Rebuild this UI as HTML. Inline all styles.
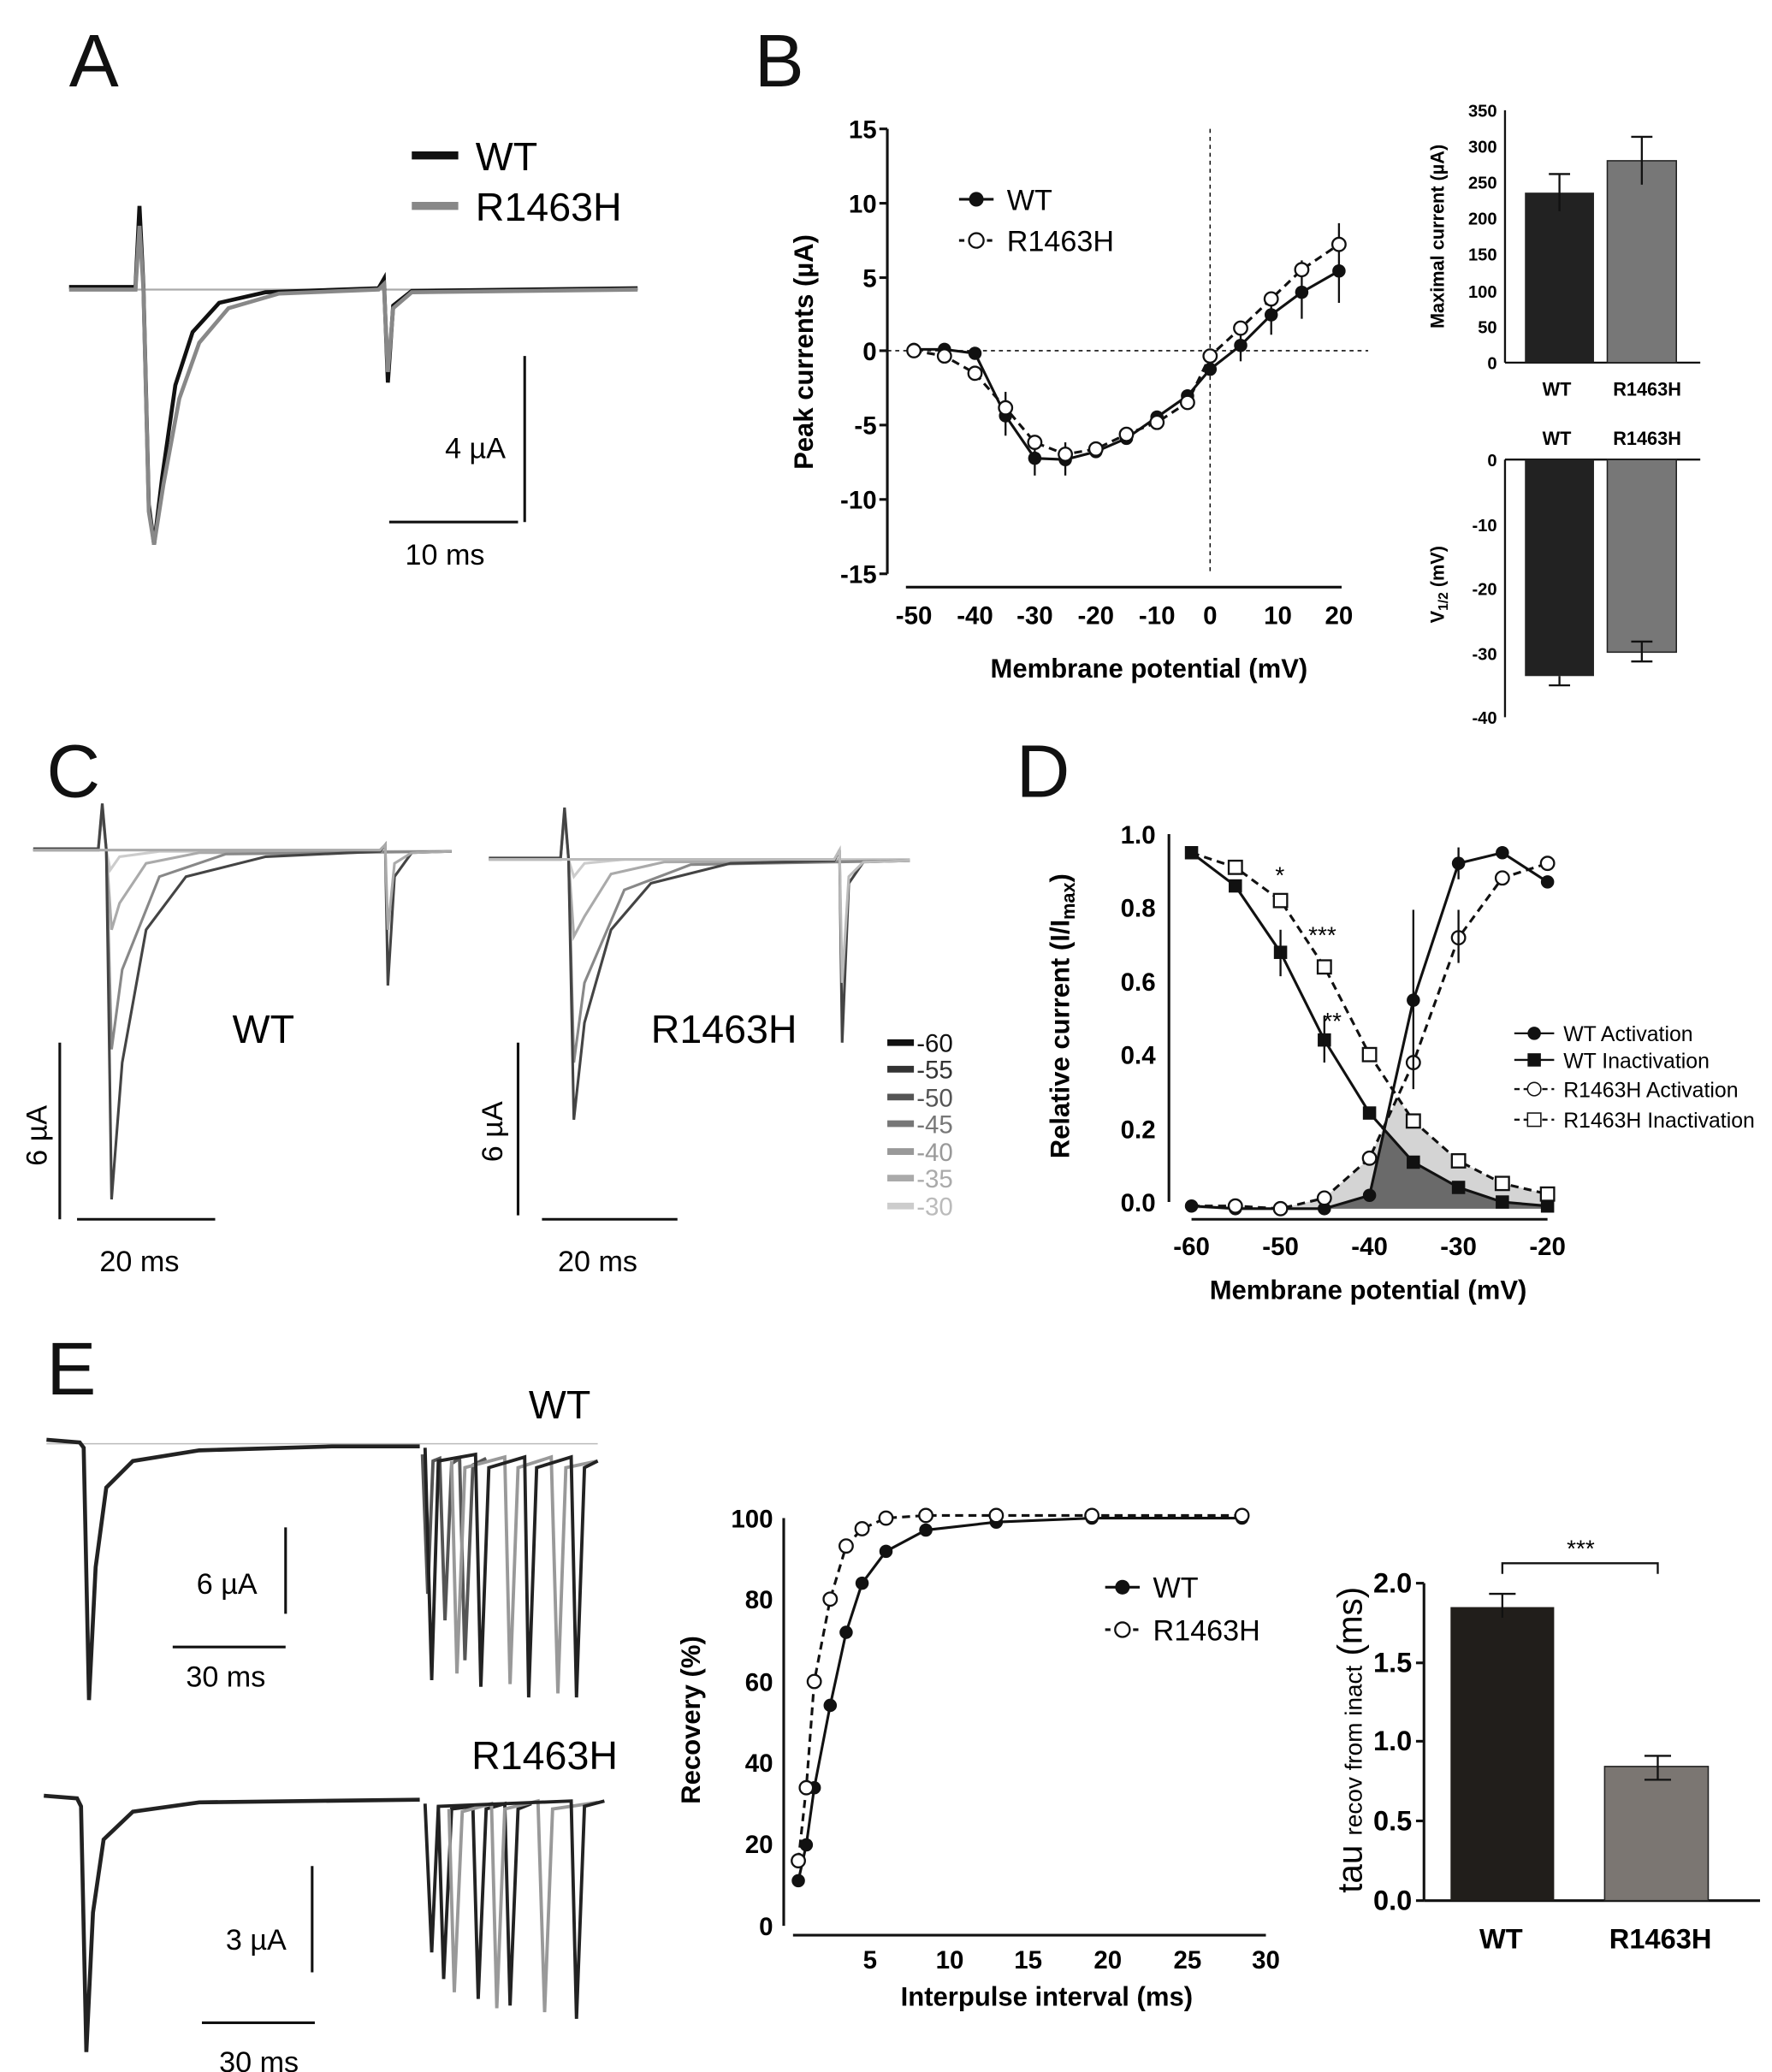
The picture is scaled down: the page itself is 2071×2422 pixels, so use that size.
<!DOCTYPE html>
<html><head><meta charset="utf-8"><style>html,body{margin:0;padding:0;background:#fff}svg{display:block}</style></head><body>
<svg xmlns="http://www.w3.org/2000/svg" width="2071" height="2422" viewBox="0 0 1334 1560" font-family="Liberation Sans, sans-serif">
<rect width="1334" height="1560" fill="#fff"/>
<!-- Panel labels -->
<g font-size="56" fill="#111"><text x="52" y="65">A</text><text x="568" y="65">B</text><text x="35" y="600">C</text><text x="765" y="600">D</text><text x="35" y="1050">E</text></g>

<!-- Panel A -->
<line x1="310" y1="117" x2="345" y2="117" stroke="#111" stroke-width="6"/>
<line x1="310" y1="155" x2="345" y2="155" stroke="#888" stroke-width="6"/>
<text x="358" y="128" font-size="30">WT</text><text x="358" y="166" font-size="30">R1463H</text>
<line x1="100" y1="218" x2="480" y2="218" stroke="#aaa" stroke-width="1.5"/>
<path d="M52 216 L102 216 L105 155 L108 216 L112 380 L116 410 L122 360 L132 290 L145 250 L165 228 L200 220 L285 217 L289 210 L292 288 L296 230 L310 219 L480 217" fill="none" stroke="#111" stroke-width="3"/>
<path d="M52 218 L102 218 L105 170 L108 218 L112 385 L116 410 L123 365 L135 300 L150 258 L172 232 L210 221 L285 218 L289 214 L292 280 L296 232 L310 220 L480 218" fill="none" stroke="#888" stroke-width="3"/>
<line x1="395" y1="268" x2="395" y2="393" stroke="#111" stroke-width="2"/>
<line x1="293" y1="393" x2="390" y2="393" stroke="#111" stroke-width="2"/>
<text x="335" y="345" font-size="22">4 µA</text><text x="305" y="425" font-size="22">10 ms</text>

<!-- Panel B main -->
<g stroke="#111" stroke-width="2" fill="none">
<line x1="668" y1="97" x2="668" y2="432"/>
<line x1="682" y1="442" x2="1010" y2="442"/>
</g>
<line x1="668" y1="264" x2="1030" y2="264" stroke="#111" stroke-dasharray="3,3"/>
<line x1="911" y1="97" x2="911" y2="432" stroke="#111" stroke-dasharray="3,3"/>
<g font-size="19" font-weight="bold" text-anchor="end">
<text x="660" y="104">15</text><text x="660" y="160">10</text><text x="660" y="216">5</text><text x="660" y="271">0</text><text x="660" y="327">-5</text><text x="660" y="383">-10</text><text x="660" y="439">-15</text></g>
<g stroke="#111" stroke-width="2"><line x1="662" y1="97" x2="668" y2="97"/><line x1="662" y1="153" x2="668" y2="153"/><line x1="662" y1="209" x2="668" y2="209"/><line x1="662" y1="264" x2="668" y2="264"/><line x1="662" y1="320" x2="668" y2="320"/><line x1="662" y1="376" x2="668" y2="376"/><line x1="662" y1="432" x2="668" y2="432"/></g>
<g font-size="19" font-weight="bold" text-anchor="middle">
<text x="688" y="470">-50</text><text x="734" y="470">-40</text><text x="779" y="470">-30</text><text x="825" y="470">-20</text><text x="871" y="470">-10</text><text x="911" y="470">0</text><text x="962" y="470">10</text><text x="1008" y="470">20</text></g>
<text x="865" y="510" font-size="20" font-weight="bold" text-anchor="middle">Membrane potential (mV)</text>
<text transform="translate(612,265) rotate(-90)" font-size="20" font-weight="bold" text-anchor="middle">Peak currents (µA)</text>
<path d="M688 263 L711 263 L734 266 L757 313 L779 345 L802 346 L825 340 L848 330 L871 314 L894 298 L911 278 L934 260 L957 237 L980 220 L1008 204" fill="none" stroke="#111" stroke-width="2"/>
<path d="M688 264 L711 268 L734 281 L757 307 L779 333 L802 342 L825 338 L848 327 L871 318 L894 303 L911 268 L934 247 L957 225 L980 203 L1008 184" fill="none" stroke="#111" stroke-width="2" stroke-dasharray="6,4"/>
<g stroke="#111" stroke-width="1.5">
<line x1="757" y1="295" x2="757" y2="328"/><line x1="779" y1="330" x2="779" y2="358"/><line x1="802" y1="333" x2="802" y2="358"/><line x1="957" y1="222" x2="957" y2="252"/><line x1="980" y1="196" x2="980" y2="240"/><line x1="1008" y1="168" x2="1008" y2="228"/><line x1="934" y1="250" x2="934" y2="272"/></g>
<g fill="#111"><circle cx="688" cy="263" r="5"/><circle cx="711" cy="263" r="5"/><circle cx="734" cy="266" r="5"/><circle cx="757" cy="313" r="5"/><circle cx="779" cy="345" r="5"/><circle cx="802" cy="346" r="5"/><circle cx="825" cy="340" r="5"/><circle cx="848" cy="330" r="5"/><circle cx="871" cy="314" r="5"/><circle cx="894" cy="298" r="5"/><circle cx="911" cy="278" r="5"/><circle cx="934" cy="260" r="5"/><circle cx="957" cy="237" r="5"/><circle cx="980" cy="220" r="5"/><circle cx="1008" cy="204" r="5"/></g>
<g fill="#fff" stroke="#111" stroke-width="1.5"><circle cx="688" cy="264" r="5"/><circle cx="711" cy="268" r="5"/><circle cx="734" cy="281" r="5"/><circle cx="757" cy="307" r="5"/><circle cx="779" cy="333" r="5"/><circle cx="802" cy="342" r="5"/><circle cx="825" cy="338" r="5"/><circle cx="848" cy="327" r="5"/><circle cx="871" cy="318" r="5"/><circle cx="894" cy="303" r="5"/><circle cx="911" cy="268" r="5"/><circle cx="934" cy="247" r="5"/><circle cx="957" cy="225" r="5"/><circle cx="980" cy="203" r="5"/><circle cx="1008" cy="184" r="5"/></g>
<line x1="722" y1="150" x2="748" y2="150" stroke="#111" stroke-width="2"/><circle cx="735" cy="150" r="5.5" fill="#111"/>
<line x1="722" y1="181" x2="748" y2="181" stroke="#111" stroke-width="2" stroke-dasharray="4,3"/><circle cx="735" cy="181" r="5.5" fill="#fff" stroke="#111" stroke-width="1.5"/>
<text x="758" y="158" font-size="22">WT</text><text x="758" y="189" font-size="22">R1463H</text>

<!-- B inset top -->
<line x1="1133" y1="83" x2="1133" y2="273" stroke="#111" stroke-width="1.5"/>
<line x1="1133" y1="273" x2="1280" y2="273" stroke="#111" stroke-width="1.5"/>
<g font-size="13" font-weight="bold" text-anchor="end">
<text x="1127" y="88">350</text><text x="1127" y="115">300</text><text x="1127" y="142">250</text><text x="1127" y="169">200</text><text x="1127" y="196">150</text><text x="1127" y="224">100</text><text x="1127" y="251">50</text><text x="1127" y="278">0</text></g>
<rect x="1148" y="145" width="52" height="128" fill="#222"/>
<rect x="1210" y="121" width="52" height="152" fill="#777" stroke="#222"/>
<g stroke="#111" stroke-width="1.5"><line x1="1174" y1="131" x2="1174" y2="159"/><line x1="1166" y1="131" x2="1182" y2="131"/><line x1="1236" y1="103" x2="1236" y2="139"/><line x1="1228" y1="103" x2="1244" y2="103"/></g>
<g font-size="14" font-weight="bold" text-anchor="middle"><text x="1172" y="298">WT</text><text x="1240" y="298">R1463H</text><text x="1172" y="335">WT</text><text x="1240" y="335">R1463H</text></g>
<text transform="translate(1087,178) rotate(-90)" font-size="14" font-weight="bold" text-anchor="middle">Maximal current (µA)</text>
<!-- B inset bottom -->
<line x1="1133" y1="346" x2="1133" y2="540" stroke="#111" stroke-width="1.5"/>
<line x1="1133" y1="346" x2="1280" y2="346" stroke="#111" stroke-width="1.5"/>
<g font-size="13" font-weight="bold" text-anchor="end"><text x="1127" y="351">0</text><text x="1127" y="400">-10</text><text x="1127" y="448">-20</text><text x="1127" y="497">-30</text><text x="1127" y="545">-40</text></g>
<rect x="1148" y="346" width="52" height="163" fill="#222"/>
<rect x="1210" y="346" width="52" height="145" fill="#777" stroke="#222"/>
<g stroke="#111" stroke-width="1.5"><line x1="1174" y1="509" x2="1174" y2="516"/><line x1="1166" y1="516" x2="1182" y2="516"/><line x1="1236" y1="483" x2="1236" y2="498"/><line x1="1228" y1="483" x2="1244" y2="483"/><line x1="1228" y1="498" x2="1244" y2="498"/></g>
<text transform="translate(1087,440) rotate(-90)" font-size="14" font-weight="bold" text-anchor="middle">V<tspan font-size="10" dy="3">1/2</tspan><tspan dy="-3"> (mV)</tspan></text>

<!-- Panel C -->
<g fill="none" stroke-width="2">
<path d="M25 640 L74 640 L77 605 L80 640 L83 655 L90 645 L120 641 L340 641" stroke="#ccc"/>
<path d="M25 640 L74 640 L77 610 L80 640 L84 700 L90 680 L110 650 L150 642 L340 641" stroke="#aaa"/>
<path d="M25 640 L74 640 L77 610 L80 640 L84 790 L92 730 L120 660 L170 643 L340 641" stroke="#888"/>
<path d="M25 639 L74 639 L77 605 L80 639 L84 903 L92 800 L110 700 L140 660 L200 645 L286 641 L290 636 L292 742 L297 660 L310 642 L340 641" stroke="#444"/>
<path d="M25 640 L286 640 L290 636 L292 700 L297 650 L310 642 L340 641" stroke="#aaa"/>
<path d="M368 647 L422 647 L425 610 L428 647 L432 660 L440 650 L470 647 L685 647" stroke="#ccc"/>
<path d="M368 647 L422 647 L425 612 L428 647 L432 705 L440 690 L460 658 L500 649 L685 648" stroke="#aaa"/>
<path d="M368 647 L422 647 L425 612 L428 647 L432 800 L440 740 L470 670 L520 651 L685 648" stroke="#888"/>
<path d="M368 646 L422 646 L425 608 L428 646 L432 843 L440 770 L460 700 L490 665 L550 650 L628 648 L632 640 L634 785 L639 665 L650 649 L685 648" stroke="#444"/>
<path d="M368 647 L628 647 L632 640 L634 740 L639 660 L650 649 L685 648" stroke="#bbb"/>
</g>
<text x="175" y="785" font-size="30">WT</text><text x="490" y="785" font-size="30">R1463H</text>
<g stroke="#111" stroke-width="2"><line x1="45" y1="785" x2="45" y2="918"/><line x1="58" y1="918" x2="162" y2="918"/><line x1="390" y1="785" x2="390" y2="915"/><line x1="408" y1="918" x2="510" y2="918"/></g>
<text transform="translate(35,855) rotate(-90)" font-size="22" text-anchor="middle">6 µA</text>
<text transform="translate(378,852) rotate(-90)" font-size="22" text-anchor="middle">6 µA</text>
<text x="75" y="957" font-size="22">20 ms</text><text x="420" y="957" font-size="22">20 ms</text>
<g stroke-width="5"><line x1="668" y1="785" x2="688" y2="785" stroke="#111"/><line x1="668" y1="805" x2="688" y2="805" stroke="#333"/><line x1="668" y1="826" x2="688" y2="826" stroke="#555"/><line x1="668" y1="846" x2="688" y2="846" stroke="#777"/><line x1="668" y1="867" x2="688" y2="867" stroke="#999"/><line x1="668" y1="887" x2="688" y2="887" stroke="#aaa"/><line x1="668" y1="908" x2="688" y2="908" stroke="#ccc"/></g>
<g font-size="19"><text x="690" y="792" fill="#111">-60</text><text x="690" y="812" fill="#333">-55</text><text x="690" y="833" fill="#555">-50</text><text x="690" y="853" fill="#777">-45</text><text x="690" y="874" fill="#999">-40</text><text x="690" y="894" fill="#aaa">-35</text><text x="690" y="915" fill="#bbb">-30</text></g>

<!-- Panel D -->
<path d="M897 908 L930 908 L964 910 L997 902 L1031 872 L1052 826 L1064 844 L1098 874 L1131 891 L1165 899 L1165 910 L897 910 Z" fill="#d4d4d4"/>
<path d="M930 910 L964 910 L997 910 L1031 900 L1042 850 L1064 875 L1098 894 L1131 905 L1165 908 L1165 910 Z" fill="#6a6a6a"/>
<g stroke="#111" stroke-width="2"><line x1="880" y1="628" x2="880" y2="905"/><line x1="897" y1="918" x2="1165" y2="918"/></g>
<g font-size="19" font-weight="bold" text-anchor="end"><text x="870" y="635">1.0</text><text x="870" y="690">0.8</text><text x="870" y="746">0.6</text><text x="870" y="801">0.4</text><text x="870" y="857">0.2</text><text x="870" y="912">0.0</text></g>
<g font-size="19" font-weight="bold" text-anchor="middle"><text x="897" y="945">-60</text><text x="964" y="945">-50</text><text x="1031" y="945">-40</text><text x="1098" y="945">-30</text><text x="1165" y="945">-20</text></g>
<text x="1030" y="978" font-size="20" font-weight="bold" text-anchor="middle">Membrane potential (mV)</text>
<text transform="translate(805,765) rotate(-90)" font-size="20" font-weight="bold" text-anchor="middle">Relative current (I/I<tspan font-size="14" dy="4">max</tspan><tspan dy="-4">)</tspan></text>
<path d="M897 908 L930 910 L964 910 L997 910 L1031 900 L1064 753 L1098 650 L1131 642 L1165 664" fill="none" stroke="#111" stroke-width="2"/>
<path d="M897 642 L930 667 L964 717 L997 783 L1031 838 L1064 875 L1098 894 L1131 905 L1165 908" fill="none" stroke="#111" stroke-width="2"/>
<path d="M897 908 L930 908 L964 910 L997 902 L1031 872 L1064 800 L1098 706 L1131 661 L1165 650" fill="none" stroke="#111" stroke-width="2" stroke-dasharray="6,4"/>
<path d="M897 642 L930 653 L964 678 L997 728 L1031 794 L1064 844 L1098 874 L1131 891 L1165 899" fill="none" stroke="#111" stroke-width="2" stroke-dasharray="6,4"/>
<g fill="#111"><circle cx="897" cy="908" r="5"/><circle cx="930" cy="910" r="5"/><circle cx="964" cy="910" r="5"/><circle cx="997" cy="910" r="5"/><circle cx="1031" cy="900" r="5"/><circle cx="1064" cy="753" r="5"/><circle cx="1098" cy="650" r="5"/><circle cx="1131" cy="642" r="5"/><circle cx="1165" cy="664" r="5"/>
<rect x="892" y="637" width="10" height="10"/><rect x="925" y="662" width="10" height="10"/><rect x="959" y="712" width="10" height="10"/><rect x="992" y="778" width="10" height="10"/><rect x="1026" y="833" width="10" height="10"/><rect x="1059" y="870" width="10" height="10"/><rect x="1093" y="889" width="10" height="10"/><rect x="1126" y="900" width="10" height="10"/><rect x="1160" y="903" width="10" height="10"/></g>
<g fill="#fff" stroke="#111" stroke-width="1.5"><circle cx="930" cy="908" r="5"/><circle cx="964" cy="910" r="5"/><circle cx="997" cy="902" r="5"/><circle cx="1031" cy="872" r="5"/><circle cx="1064" cy="800" r="5"/><circle cx="1098" cy="706" r="5"/><circle cx="1131" cy="661" r="5"/><circle cx="1165" cy="650" r="5"/>
<rect x="925" y="648" width="10" height="10"/><rect x="959" y="673" width="10" height="10"/><rect x="992" y="723" width="10" height="10"/><rect x="1026" y="789" width="10" height="10"/><rect x="1059" y="839" width="10" height="10"/><rect x="1093" y="869" width="10" height="10"/><rect x="1126" y="886" width="10" height="10"/><rect x="1160" y="894" width="10" height="10"/></g>
<g stroke="#111" stroke-width="1.5"><line x1="964" y1="700" x2="964" y2="735"/><line x1="997" y1="765" x2="997" y2="800"/><line x1="1064" y1="685" x2="1064" y2="820"/><line x1="1098" y1="685" x2="1098" y2="725"/><line x1="1098" y1="638" x2="1098" y2="662"/></g>
<g font-size="18"><text x="960" y="665">*</text><text x="985" y="710">***</text><text x="996" y="775">**</text></g>
<g stroke="#111" stroke-width="1.5"><line x1="1140" y1="778" x2="1170" y2="778"/><line x1="1140" y1="798" x2="1170" y2="798"/><line x1="1140" y1="820" x2="1170" y2="820" stroke-dasharray="4,3"/><line x1="1140" y1="843" x2="1170" y2="843" stroke-dasharray="4,3"/></g>
<circle cx="1155" cy="778" r="5" fill="#111"/><rect x="1150" y="793" width="10" height="10" fill="#111"/>
<circle cx="1155" cy="820" r="5" fill="#fff" stroke="#111"/><rect x="1150" y="838" width="10" height="10" fill="#fff" stroke="#111"/>
<g font-size="16"><text x="1177" y="784">WT Activation</text><text x="1177" y="804">WT Inactivation</text><text x="1177" y="826">R1463H Activation</text><text x="1177" y="849">R1463H Inactivation</text></g>

<!-- Panel E traces -->
<text x="398" y="1068" font-size="30">WT</text><text x="355" y="1332" font-size="30">R1463H</text>
<line x1="35" y1="1087" x2="450" y2="1087" stroke="#bbb" stroke-width="1"/>
<path d="M35 1084 L60 1086 L63 1090 L67 1280 L72 1180 L80 1120 L100 1100 L150 1092 L250 1089 L316 1089" fill="none" stroke="#222" stroke-width="3"/>
<g fill="none" stroke-width="2.5">
<path d="M318 1095 L322 1200 L326 1100 L331 1098 L335 1220 L340 1102 L346 1098 L350 1250 L356 1103 L366 1098" stroke="#555"/>
<path d="M340 1100 L344 1260 L350 1105 L380 1097 L384 1268 L390 1105 L415 1097 L420 1275 L426 1105 L450 1100" stroke="#999"/>
<path d="M320 1090 L325 1265 L330 1100 L358 1095 L362 1270 L368 1105 L395 1097 L398 1278 L404 1105 L430 1097 L434 1278 L440 1105 L450 1100" stroke="#222"/>
</g>
<g stroke="#111" stroke-width="2"><line x1="215" y1="1150" x2="215" y2="1215"/><line x1="130" y1="1240" x2="215" y2="1240"/><line x1="235" y1="1405" x2="235" y2="1485"/><line x1="152" y1="1523" x2="237" y2="1523"/></g>
<g font-size="22"><text x="148" y="1200">6 µA</text><text x="140" y="1270">30 ms</text><text x="170" y="1468">3 µA</text><text x="165" y="1560">30 ms</text></g>
<path d="M33 1352 L58 1354 L61 1360 L65 1545 L70 1440 L78 1385 L100 1364 L150 1357 L316 1355" fill="none" stroke="#222" stroke-width="3"/>
<g fill="none" stroke-width="2.5">
<path d="M330 1360 L334 1490 L340 1362 L356 1360 L360 1505 L366 1362 L380 1358 L384 1510 L390 1362 L400 1358" stroke="#222"/>
<path d="M338 1362 L342 1500 L348 1364 L370 1358 L374 1512 L380 1362 L405 1356 L410 1515 L416 1362 L450 1357" stroke="#999"/>
<path d="M320 1358 L325 1470 L330 1360 L430 1356 L434 1520 L440 1360 L455 1356" stroke="#222"/>
</g>

<!-- Recovery plot -->
<g stroke="#111" stroke-width="2"><line x1="590" y1="1143" x2="590" y2="1450"/><line x1="597" y1="1457" x2="953" y2="1457"/></g>
<g font-size="19" font-weight="bold" text-anchor="end"><text x="582" y="1150">100</text><text x="582" y="1211">80</text><text x="582" y="1273">60</text><text x="582" y="1334">40</text><text x="582" y="1395">20</text><text x="582" y="1457">0</text></g>
<g font-size="19" font-weight="bold" text-anchor="middle"><text x="655" y="1482">5</text><text x="715" y="1482">10</text><text x="774" y="1482">15</text><text x="834" y="1482">20</text><text x="894" y="1482">25</text><text x="953" y="1482">30</text></g>
<text x="788" y="1510" font-size="20" font-weight="bold" text-anchor="middle">Interpulse interval (ms)</text>
<text transform="translate(527,1295) rotate(-90)" font-size="20" font-weight="bold" text-anchor="middle">Recovery (%)</text>
<path d="M601 1416 L607 1389 L613 1346 L625 1284 L637 1229 L649 1192 L667 1168 L697 1152 L750 1146 L822 1143 L935 1143" fill="none" stroke="#111" stroke-width="2"/>
<path d="M601 1401 L607 1346 L613 1266 L625 1204 L637 1164 L649 1151 L667 1143 L697 1141 L750 1141 L822 1141 L935 1141" fill="none" stroke="#111" stroke-width="2" stroke-dasharray="6,4"/>
<g fill="#111"><circle cx="601" cy="1416" r="5"/><circle cx="607" cy="1389" r="5"/><circle cx="613" cy="1346" r="5"/><circle cx="625" cy="1284" r="5"/><circle cx="637" cy="1229" r="5"/><circle cx="649" cy="1192" r="5"/><circle cx="667" cy="1168" r="5"/><circle cx="697" cy="1152" r="5"/><circle cx="750" cy="1146" r="5"/><circle cx="822" cy="1143" r="5"/><circle cx="935" cy="1143" r="5"/></g>
<g fill="#fff" stroke="#111" stroke-width="1.5"><circle cx="601" cy="1401" r="5"/><circle cx="607" cy="1346" r="5"/><circle cx="613" cy="1266" r="5"/><circle cx="625" cy="1204" r="5"/><circle cx="637" cy="1164" r="5"/><circle cx="649" cy="1151" r="5"/><circle cx="667" cy="1143" r="5"/><circle cx="697" cy="1141" r="5"/><circle cx="750" cy="1141" r="5"/><circle cx="822" cy="1141" r="5"/><circle cx="935" cy="1141" r="5"/></g>
<line x1="832" y1="1195" x2="858" y2="1195" stroke="#111" stroke-width="2"/><circle cx="845" cy="1195" r="5.5" fill="#111"/>
<line x1="832" y1="1227" x2="858" y2="1227" stroke="#111" stroke-width="2" stroke-dasharray="4,3"/><circle cx="845" cy="1227" r="5.5" fill="#fff" stroke="#111" stroke-width="1.5"/>
<text x="868" y="1203" font-size="22">WT</text><text x="868" y="1235" font-size="22">R1463H</text>

<!-- tau bar -->
<g stroke="#111" stroke-width="2"><line x1="1072" y1="1192" x2="1072" y2="1431"/><line x1="1072" y1="1431" x2="1325" y2="1431"/>
<line x1="1066" y1="1192" x2="1072" y2="1192"/><line x1="1066" y1="1252" x2="1072" y2="1252"/><line x1="1066" y1="1311" x2="1072" y2="1311"/><line x1="1066" y1="1371" x2="1072" y2="1371"/><line x1="1066" y1="1431" x2="1072" y2="1431"/></g>
<g font-size="21" font-weight="bold" text-anchor="end"><text x="1063" y="1199">2.0</text><text x="1063" y="1259">1.5</text><text x="1063" y="1318">1.0</text><text x="1063" y="1378">0.5</text><text x="1063" y="1438">0.0</text></g>
<rect x="1092" y="1210" width="78" height="221" fill="#211e1b"/>
<rect x="1208" y="1330" width="78" height="101" fill="#7b7672" stroke="#222"/>
<g stroke="#111" stroke-width="1.5"><line x1="1131" y1="1200" x2="1131" y2="1218"/><line x1="1121" y1="1200" x2="1141" y2="1200"/><line x1="1248" y1="1322" x2="1248" y2="1340"/><line x1="1238" y1="1322" x2="1258" y2="1322"/><line x1="1238" y1="1340" x2="1258" y2="1340"/>
<path d="M1131 1185 L1131 1177 L1248 1177 L1248 1185" fill="none"/></g>
<text x="1190" y="1172" font-size="18" text-anchor="middle">***</text>
<g font-size="21" font-weight="bold" text-anchor="middle"><text x="1130" y="1467">WT</text><text x="1250" y="1467">R1463H</text></g>
<text transform="translate(1025,1310) rotate(-90)" font-size="26" text-anchor="middle">tau <tspan font-size="18">recov from inact</tspan> (ms)</text>
</svg>
</body></html>
